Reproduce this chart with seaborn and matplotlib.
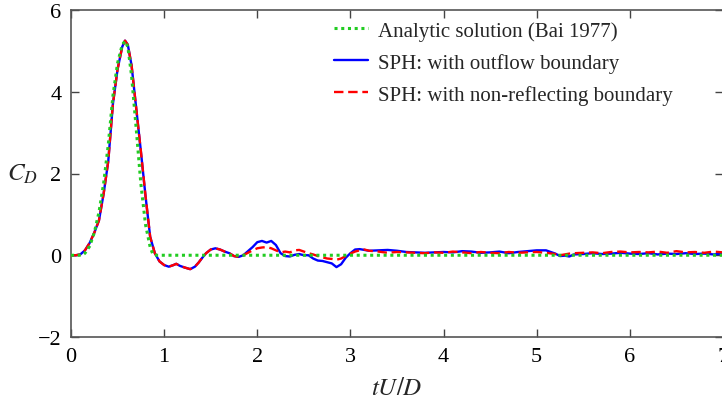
import numpy as np
import pandas as pd
import matplotlib
matplotlib.use("Agg")
import matplotlib.pyplot as plt
import seaborn as sns

# analytic drag coefficient (Bai 1977)
t_analytic = [0.0, 0.12, 0.15, 0.20, 0.25, 0.30, 0.35, 0.40, 0.45, 0.50, 0.55, 0.58,
              0.61, 0.65, 0.70, 0.75, 0.80, 0.85, 0.88, 0.90, 7.0]
cd_analytic = [0.0, 0.0, 0.05, 0.22, 0.55, 1.05, 1.75, 2.70, 3.90, 4.70, 5.15, 5.24,
               5.10, 4.40, 3.10, 1.75, 0.75, 0.20, 0.02, 0.0, 0.0]

# SPH time samples
t_sph = [0.00, 0.05, 0.10, 0.15, 0.20, 0.25, 0.30, 0.35, 0.40, 0.45, 0.50, 0.55, 0.58,
         0.61, 0.65, 0.70, 0.75, 0.80, 0.85, 0.90, 0.95, 1.00, 1.05, 1.10, 1.13, 1.17,
         1.22, 1.28, 1.33, 1.37, 1.41, 1.45, 1.50, 1.55, 1.60, 1.65, 1.70, 1.75, 1.80,
         1.85, 1.90, 1.95, 2.00, 2.05, 2.10, 2.15, 2.20, 2.25, 2.30, 2.35, 2.40, 2.45,
         2.50, 2.55, 2.60, 2.65, 2.70, 2.75, 2.80, 2.85, 2.90, 2.95, 3.00, 3.05, 3.10,
         3.15, 3.20, 3.30, 3.40, 3.50, 3.60, 3.70, 3.80, 3.90, 4.00, 4.10, 4.20, 4.30,
         4.40, 4.50, 4.60, 4.70, 4.80, 4.90, 5.00, 5.10, 5.20, 5.25, 5.30, 5.35, 5.40,
         5.50, 5.60, 5.70, 5.80, 5.90, 6.00, 6.10, 6.20, 6.30, 6.40, 6.50, 6.60, 6.70,
         6.80, 6.90, 7.00]

cd_outflow = [0.0, 0.0, 0.02, 0.12, 0.30, 0.55, 0.85, 1.50, 2.30, 3.70, 4.55, 5.10, 5.25,
              5.15, 4.65, 3.60, 2.55, 1.45, 0.45, 0.05, -0.15, -0.24, -0.28, -0.24, -0.21, -0.26,
              -0.30, -0.34, -0.28, -0.18, -0.06, 0.05, 0.14, 0.17, 0.14, 0.09, 0.05, -0.02, -0.04,
              0.00, 0.10, 0.20, 0.32, 0.35, 0.31, 0.35, 0.25, 0.05, -0.02, -0.03, 0.01, 0.03,
              0.00, 0.00, -0.08, -0.13, -0.14, -0.17, -0.20, -0.29, -0.22, -0.06, 0.05, 0.14, 0.15,
              0.13, 0.11, 0.12, 0.13, 0.11, 0.08, 0.07, 0.06, 0.07, 0.08, 0.07, 0.10, 0.09,
              0.06, 0.07, 0.09, 0.05, 0.08, 0.10, 0.12, 0.12, 0.04, -0.02, -0.01, -0.03, 0.02,
              0.03, 0.05, 0.03, 0.04, 0.06, 0.04, 0.03, 0.05, 0.02, 0.04, 0.03, 0.05, 0.03,
              0.04, 0.02, 0.04]

cd_nonreflect = [0.0, 0.0, 0.02, 0.12, 0.30, 0.55, 0.85, 1.50, 2.30, 3.70, 4.55, 5.10, 5.25,
                 5.15, 4.65, 3.60, 2.55, 1.45, 0.45, 0.05, -0.15, -0.24, -0.28, -0.24, -0.21, -0.26,
                 -0.30, -0.34, -0.28, -0.18, -0.06, 0.05, 0.14, 0.17, 0.14, 0.09, 0.05, -0.02, -0.04,
                 0.00, 0.06, 0.12, 0.17, 0.19, 0.20, 0.17, 0.12, 0.07, 0.09, 0.07, 0.12, 0.13,
                 0.09, 0.05, 0.02, -0.02, -0.05, -0.08, -0.09, -0.11, -0.08, -0.02, 0.04, 0.09, 0.12,
                 0.14, 0.11, 0.09, 0.06, 0.08, 0.07, 0.06, 0.05, 0.07, 0.06, 0.09, 0.07, 0.05,
                 0.08, 0.06, 0.05, 0.08, 0.06, 0.07, 0.08, 0.06, 0.03, 0.00, 0.02, 0.04, 0.05,
                 0.06, 0.07, 0.05, 0.08, 0.09, 0.07, 0.08, 0.07, 0.09, 0.06, 0.10, 0.07, 0.08,
                 0.06, 0.09, 0.07]

labels = ["Analytic solution (Bai 1977)",
          "SPH: with outflow boundary",
          "SPH: with non-reflecting boundary"]

sns.set_style("ticks")
plt.rcParams["font.family"] = ["Liberation Serif", "DejaVu Serif"]
plt.rcParams["mathtext.fontset"] = "stix"
plt.rcParams["axes.unicode_minus"] = True

fig = plt.figure(figsize=(7.22, 4.02), dpi=100)
ax = fig.add_axes([71 / 722, 1 - 338 / 402, 652 / 722, 327 / 402])

df_a = pd.DataFrame({"t": t_analytic, "cd": cd_analytic})
df_s = pd.DataFrame({"t": t_sph, "out": cd_outflow, "nr": cd_nonreflect})

sns.lineplot(data=df_s, x="t", y="out", ax=ax, color="#0000ff", lw=1.7,
             label=labels[1], zorder=2)
sns.lineplot(data=df_s, x="t", y="nr", ax=ax, color="#ff0000", lw=1.7,
             linestyle=(0, (4, 2)), label=labels[2], zorder=3)
sns.lineplot(data=df_a, x="t", y="cd", ax=ax, color="#22cc22", lw=2.2,
             linestyle=(0, (1, 1.2)), label=labels[0], zorder=4)

ax.set_xlim(0, 7)
ax.set_ylim(-2, 6)
ax.set_xticks(range(0, 8))
ax.set_yticks([-2, 0, 2, 4, 6])
ax.tick_params(direction="in", length=6, width=1, colors="#444444",
               labelcolor="black", labelsize=16, top=True, right=True, pad=7)
for s in ax.spines.values():
    s.set_color("#555555")
    s.set_linewidth(1.2)

ax.set_xlabel(r"$tU/D$", fontsize=18, labelpad=8)
ax.set_ylabel(r"$C_D$", fontsize=18, rotation=0, labelpad=11, va="center")

h, l = ax.get_legend_handles_labels()
order = [2, 0, 1]
ax.legend([h[i] for i in order], [l[i] for i in order], frameon=False,
          loc="upper left", bbox_to_anchor=(334 / 722, 1 - 22 / 402),
          bbox_transform=fig.transFigure, fontsize=15, borderpad=0,
          borderaxespad=0, handlelength=1.65, handletextpad=0.45, labelspacing=0.58)

fig.savefig("out.png", dpi=100)
